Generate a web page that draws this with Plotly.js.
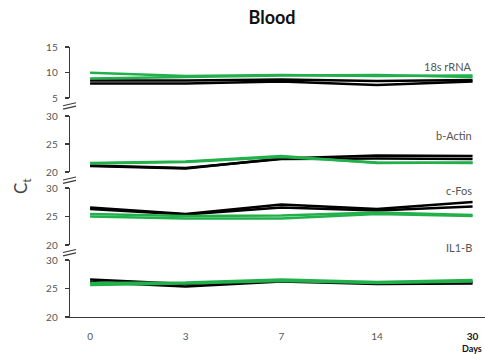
<!DOCTYPE html>
<html>
<head>
<meta charset="utf-8">
<script src="https://cdn.plot.ly/plotly-3.0.1.min.js"></script>
<style>html,body{margin:0;padding:0;background:#fff;}#chart{width:485px;height:354px;}</style>
</head>
<body>
<div id="chart"></div>
<script>
// Categories (days)
const days = ['0', '3', '7', '14', '30'];
const dayLabels = ['0', '3', '7', '14', '<span style="color:#111"><b>30</b></span>'];

// 18s rRNA (Ct)
const rrna_black1 = [8.43, 8.43, 8.63, 8.33, 8.53];
const rrna_black2 = [7.84, 7.84, 8.24, 7.55, 8.24];
const rrna_green1 = [9.96, 9.31, 9.51, 9.31, 9.41];
const rrna_green2 = [8.82, 9.12, 9.41, 9.51, 9.12];

// b-Actin (Ct)
const actin_black1 = [21.07, 20.63, 22.41, 22.95, 22.86];
const actin_black2 = [21.16, 20.71, 22.32, 22.41, 22.32];
const actin_green1 = [21.61, 21.88, 22.86, 21.61, 21.70];
const actin_green2 = [21.52, 21.79, 22.68, 21.70, 21.61];

// c-Fos (Ct)
const fos_black1 = [26.58, 25.44, 27.11, 26.32, 27.54];
const fos_black2 = [26.32, 25.35, 26.58, 26.05, 26.75];
const fos_green1 = [25.44, 25.09, 25.18, 25.70, 25.26];
const fos_green2 = [25.00, 24.65, 24.65, 25.44, 25.09];

// IL1-B (Ct)
const il1b_black1 = [26.58, 25.79, 26.40, 25.96, 26.14];
const il1b_black2 = [26.14, 25.35, 26.23, 25.79, 25.88];
const il1b_green1 = [25.96, 26.05, 26.58, 26.14, 26.49];
const il1b_green2 = [25.61, 25.88, 26.32, 25.96, 26.23];

const panelNames = ['18s rRNA', 'b-Actin', 'c-Fos', 'IL1-B'];
const yTicks = [[5, 10, 15], [20, 25, 30], [20, 25, 30], [20, 25, 30]];

const BLACK = '#000000';
const GREEN = '#22b04b';
const FONT = 'Lato, "Open Sans", sans-serif';

function line(y, axis, color) {
  return {
    x: days, y: y, xaxis: 'x', yaxis: axis, type: 'scatter', mode: 'lines',
    line: {color: color, width: 2.6}, hoverinfo: 'skip', showlegend: false
  };
}

const traces = [
  line(rrna_black1, 'y', BLACK), line(rrna_black2, 'y', BLACK),
  line(rrna_green1, 'y', GREEN), line(rrna_green2, 'y', GREEN),
  line(actin_black1, 'y2', BLACK), line(actin_black2, 'y2', BLACK),
  line(actin_green1, 'y2', GREEN), line(actin_green2, 'y2', GREEN),
  line(fos_black1, 'y3', BLACK), line(fos_black2, 'y3', BLACK),
  line(fos_green1, 'y3', GREEN), line(fos_green2, 'y3', GREEN),
  line(il1b_black1, 'y4', BLACK), line(il1b_black2, 'y4', BLACK),
  line(il1b_green1, 'y4', GREEN), line(il1b_green2, 'y4', GREEN)
];

// pixel helpers for layout (plot area: x 70..485, y 47..317)
const L = 70, R = 485, T = 47, B = 317;
const px = x => (x - L) / (R - L);
const py = y => (B - y) / (B - T);

function yax(range, domain, ticks) {
  return {
    range: range, domain: domain, anchor: 'x',
    tickmode: 'array', tickvals: ticks,
    showline: true, linecolor: '#3a3a3a', linewidth: 1.3,
    ticks: 'outside', ticklen: 4, tickcolor: '#3a3a3a', tickwidth: 1.2,
    ticklabelstandoff: 5,
    tickfont: {family: FONT, size: 10, color: '#555'},
    showgrid: false, zeroline: false, fixedrange: true
  };
}

const shapes = [];
[[105.7, 102.7], [180, 177], [252.5, 249.5]].forEach(([a, b]) => {
  shapes.push({type: 'line', xref: 'paper', yref: 'paper', x0: px(63), x1: px(76), y0: py(a), y1: py(b), line: {color: '#3a3a3a', width: 1.1}});
  shapes.push({type: 'line', xref: 'paper', yref: 'paper', x0: px(63), x1: px(76), y0: py(a + 3.4), y1: py(b + 3.4), line: {color: '#3a3a3a', width: 1.1}});
});

const labelY = [66, 135, 190, 247];
const annotations = panelNames.map((n, i) => ({
  text: n, xref: 'paper', yref: 'paper', x: px(474), y: py(labelY[i]),
  xanchor: 'right', yanchor: 'middle', showarrow: false,
  font: {family: FONT, size: 11, color: '#555'}
}));
annotations.push({
  text: 'C<sub>t</sub>', xref: 'paper', yref: 'paper', x: px(22), y: py(186),
  xanchor: 'center', yanchor: 'middle', showarrow: false, textangle: -90,
  font: {family: FONT, size: 17, color: '#444'}
});
annotations.push({
  text: '<b>Days</b>', xref: 'paper', yref: 'paper', x: px(484), y: py(348.5),
  xanchor: 'right', yanchor: 'middle', showarrow: false,
  font: {family: FONT, size: 9, color: '#111'}
});

const layout = {
  width: 485, height: 354,
  margin: {l: L, r: 485 - R, t: T, b: 354 - B, pad: 0},
  paper_bgcolor: '#fff', plot_bgcolor: '#fff',
  title: {text: '<b>Blood</b>', x: 272 / 485, xanchor: 'center', xref: 'container',
          y: 1 - 18 / 354, yanchor: 'middle', yref: 'container',
          font: {family: FONT, size: 18, color: '#111', weight: 900}},
  xaxis: {
    type: 'category', range: [-0.21, 4.13], anchor: 'y4',
    tickmode: 'array', tickvals: days, ticktext: dayLabels,
    showline: true, linecolor: '#3a3a3a', linewidth: 1.3,
    ticks: '', ticklabelstandoff: 10,
    tickfont: {family: FONT, size: 10, color: '#555'},
    showgrid: false, zeroline: false, fixedrange: true
  },
  yaxis: yax([5, 15], [py(98), 1], yTicks[0]),
  yaxis2: yax([20, 30], [py(172), py(116)], yTicks[1]),
  yaxis3: yax([20, 30], [py(245), py(188)], yTicks[2]),
  yaxis4: yax([20, 30], [0, py(260)], yTicks[3]),
  shapes: shapes,
  annotations: annotations,
  showlegend: false
};

Plotly.newPlot('chart', traces, layout, {displayModeBar: false, staticPlot: true});
</script>
</body>
</html>
